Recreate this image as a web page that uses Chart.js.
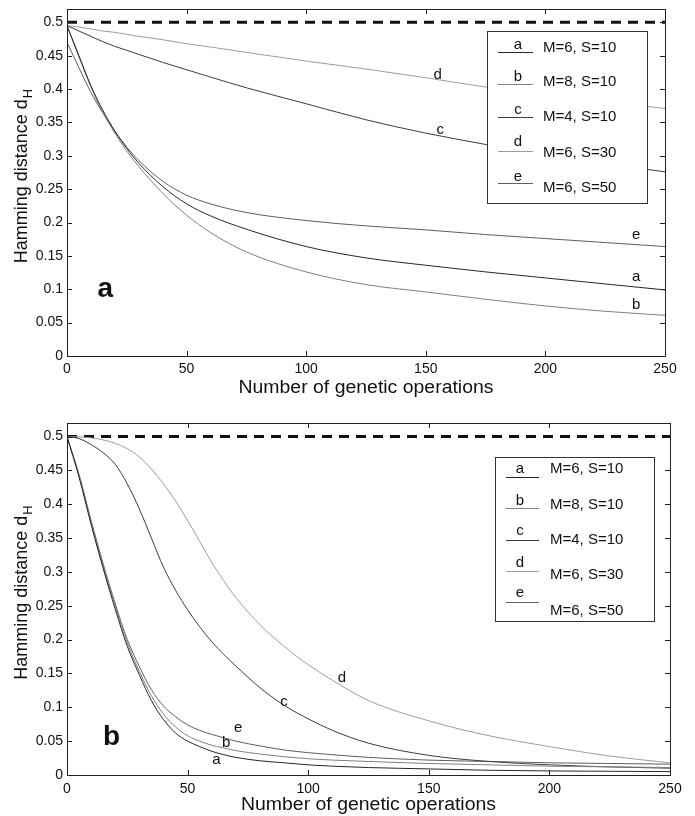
<!DOCTYPE html>
<html>
<head>
  <meta charset="utf-8">
  <title>Hamming distance vs genetic operations</title>
  <script src="https://cdn.jsdelivr.net/npm/chart.js"></script>
  <style>
    body { margin: 0; background: #fff; }
    .panel { position: relative; width: 695px; }
    #panelA { height: 400px; }
    #panelB { height: 416px; }
  </style>
</head>
<body>
  <div class="panel" id="panelA"><canvas id="chartA" width="695" height="400"></canvas></div>
  <div class="panel" id="panelB"><canvas id="chartB" width="695" height="416"></canvas></div>

  <script>
    // ---- data ----
    const seriesKeys = ['a', 'b', 'c', 'd', 'e'];
    const seriesNames = ['M=6, S=10', 'M=8, S=10', 'M=4, S=10', 'M=6, S=30', 'M=6, S=50'];
    const xTicks = [0, 50, 100, 150, 200, 250];
    const yTicks = [0, 0.05, 0.1, 0.15, 0.2, 0.25, 0.3, 0.35, 0.4, 0.45, 0.5];
    const randomLevel = 0.5;

    // panel a
    const opsA = [0, 5, 10, 15, 20, 25, 30, 40, 50, 60, 75, 100, 125, 150, 175, 200, 225, 250];
    const aA = [0.495, 0.45, 0.405, 0.368, 0.337, 0.311, 0.289, 0.254, 0.228, 0.21, 0.19, 0.164, 0.147, 0.136, 0.126, 0.117, 0.108, 0.099];
    const bA = [0.495, 0.448, 0.403, 0.365, 0.334, 0.307, 0.284, 0.244, 0.211, 0.185, 0.156, 0.126, 0.107, 0.096, 0.085, 0.075, 0.067, 0.061];
    const cA = [0.495, 0.487, 0.479, 0.471, 0.464, 0.458, 0.452, 0.44, 0.429, 0.418, 0.402, 0.378, 0.354, 0.334, 0.317, 0.301, 0.288, 0.276];
    const dA = [0.495, 0.493, 0.49, 0.487, 0.485, 0.482, 0.479, 0.474, 0.468, 0.463, 0.455, 0.442, 0.43, 0.417, 0.403, 0.392, 0.381, 0.371];
    const eA = [0.47, 0.432, 0.395, 0.364, 0.337, 0.313, 0.293, 0.262, 0.241, 0.228, 0.215, 0.203, 0.195, 0.189, 0.182, 0.176, 0.17, 0.164];
    // curve tags placed on panel a (x, y in data units)
    const tagXA = [238, 238, 156, 155, 238];
    const tagYA = [0.119, 0.077, 0.339, 0.421, 0.181];

    // panel b
    const opsB = [0, 5, 10, 15, 20, 25, 30, 35, 40, 45, 50, 55, 60, 65, 70, 80, 90, 100, 110, 125, 150, 175, 200, 225, 250];
    const aB = [0.5, 0.44, 0.37, 0.305, 0.245, 0.19, 0.148, 0.11, 0.082, 0.062, 0.05, 0.042, 0.035, 0.03, 0.026, 0.021, 0.018, 0.015, 0.013, 0.011, 0.009, 0.007, 0.006, 0.0055, 0.005];
    const bB = [0.5, 0.442, 0.373, 0.308, 0.249, 0.195, 0.153, 0.117, 0.09, 0.071, 0.058, 0.05, 0.044, 0.04, 0.036, 0.031, 0.027, 0.024, 0.022, 0.02, 0.017, 0.015, 0.013, 0.012, 0.011];
    const cB = [0.5, 0.497, 0.488, 0.476, 0.459, 0.43, 0.393, 0.35, 0.307, 0.273, 0.244, 0.219, 0.197, 0.178, 0.161, 0.129, 0.103, 0.083, 0.066, 0.047, 0.029, 0.02, 0.015, 0.012, 0.01];
    const dB = [0.5, 0.4995, 0.498, 0.495, 0.49, 0.482, 0.47, 0.452, 0.43, 0.405, 0.376, 0.345, 0.314, 0.287, 0.262, 0.222, 0.19, 0.163, 0.14, 0.11, 0.08, 0.058, 0.042, 0.028, 0.018];
    const eB = [0.5, 0.444, 0.376, 0.312, 0.253, 0.2, 0.16, 0.126, 0.102, 0.086, 0.074, 0.066, 0.06, 0.055, 0.05, 0.043, 0.037, 0.033, 0.03, 0.026, 0.022, 0.02, 0.018, 0.017, 0.016];
    const tagXB = [62, 66, 90, 114, 71];
    const tagYB = [0.023, 0.047, 0.108, 0.144, 0.069];

    const lineColors = ['#262626', '#808080', '#3c3c3c', '#9c9c9c', '#5e5e5e'];
    const fontFam = '"Liberation Sans", Arial, Helvetica, sans-serif';

    // legend layout per panel (pixels in canvas): box, and rows [letterY, lineY, textY]
    const legendA = {
      box: [487, 31, 160, 172], letterX: 518, lineX: [498, 533], textX: 543,
      rows: [[45, 52, 48], [77, 84, 82], [110, 117, 117], [142, 151, 153], [177, 183, 188]]
    };
    const legendB = {
      box: [495, 57, 159, 164], letterX: 520, lineX: [506, 539], textX: 550,
      rows: [[69, 77, 69], [101, 108, 105], [131, 140, 140], [163, 171, 175], [193, 202, 211]]
    };

    function toPoints(xs, ys) {
      return xs.map((x, i) => ({ x: x, y: ys[i] }));
    }

    // frame, inward ticks on all four sides, titles, legend and curve tags
    const matlabLook = {
      id: 'matlabLook',
      afterDraw(chart, args, opts) {
        const ctx = chart.ctx;
        const area = chart.chartArea;
        const xs = chart.scales.x, ys = chart.scales.y;
        ctx.save();
        ctx.strokeStyle = '#222';
        ctx.lineWidth = 1;
        ctx.strokeRect(area.left + 0.5, area.top + 0.5, area.right - area.left, area.bottom - area.top);
        ctx.beginPath();
        xTicks.forEach(v => {
          const px = Math.round(xs.getPixelForValue(v)) + 0.5;
          ctx.moveTo(px, area.bottom); ctx.lineTo(px, area.bottom - 5);
          ctx.moveTo(px, area.top); ctx.lineTo(px, area.top + 5);
        });
        yTicks.forEach(v => {
          const py = Math.round(ys.getPixelForValue(v)) + 0.5;
          ctx.moveTo(area.left, py); ctx.lineTo(area.left + 5, py);
          ctx.moveTo(area.right, py); ctx.lineTo(area.right - 5, py);
        });
        ctx.stroke();

        // axis titles
        ctx.fillStyle = '#111';
        ctx.save();
        ctx.translate((area.left + area.right) / 2, area.bottom + opts.xTitleOffset);
        ctx.scale(1.08, 1);
        ctx.font = '18px ' + fontFam;
        ctx.textAlign = 'center';
        ctx.textBaseline = 'middle';
        ctx.fillText('Number of genetic operations', 0, 0);
        ctx.restore();

        ctx.save();
        ctx.textBaseline = 'middle';
        ctx.translate(22, (area.top + area.bottom) / 2 - 6);
        ctx.rotate(-Math.PI / 2);
        const main = 'Hamming distance d';
        ctx.font = '18px ' + fontFam;
        const w = ctx.measureText(main).width;
        ctx.font = '13px ' + fontFam;
        const ws = ctx.measureText('H').width;
        ctx.textAlign = 'left';
        ctx.font = '18px ' + fontFam;
        ctx.fillText(main, -(w + ws) / 2, 0);
        ctx.font = '13px ' + fontFam;
        ctx.fillText('H', -(w + ws) / 2 + w + 1, 6);
        ctx.restore();

        ctx.textBaseline = 'middle';
        // panel letter
        ctx.font = 'bold 28px ' + fontFam;
        ctx.textAlign = 'center';
        ctx.fillText(opts.panelLetter, xs.getPixelForValue(opts.panelPos[0]), ys.getPixelForValue(opts.panelPos[1]));

        // curve tags
        ctx.font = '15px ' + fontFam;
        seriesKeys.forEach((k, i) => {
          ctx.fillText(k, xs.getPixelForValue(opts.tagX[i]), ys.getPixelForValue(opts.tagY[i]));
        });

        // legend box
        const lg = opts.legend;
        ctx.fillStyle = '#fff';
        ctx.fillRect(lg.box[0], lg.box[1], lg.box[2], lg.box[3]);
        ctx.strokeStyle = '#333';
        ctx.strokeRect(lg.box[0] + 0.5, lg.box[1] + 0.5, lg.box[2], lg.box[3]);
        seriesKeys.forEach((k, i) => {
          const r = lg.rows[i];
          ctx.fillStyle = '#111';
          ctx.font = '15px ' + fontFam;
          ctx.textAlign = 'center';
          ctx.fillText(k, lg.letterX, r[0]);
          ctx.strokeStyle = lineColors[i];
          ctx.beginPath();
          ctx.moveTo(lg.lineX[0], r[1] + 0.5);
          ctx.lineTo(lg.lineX[1], r[1] + 0.5);
          ctx.stroke();
          ctx.textAlign = 'left';
          ctx.fillText(seriesNames[i], lg.textX, r[2]);
        });
        ctx.restore();
      }
    };

    function makeChart(canvasId, ops, series, pad, xAxisH, plugOpts) {
      const datasets = series.map((vals, i) => ({
        label: seriesKeys[i],
        data: toPoints(ops, vals),
        borderColor: lineColors[i],
        borderWidth: 1,
        pointRadius: 0,
        cubicInterpolationMode: 'monotone'
      }));
      datasets.push({
        label: 'random',
        data: [{ x: 0, y: randomLevel }, { x: 250, y: randomLevel }],
        borderColor: '#111',
        borderWidth: 3,
        borderDash: [10, 7],
        pointRadius: 0
      });
      return new Chart(document.getElementById(canvasId), {
        type: 'line',
        data: { datasets: datasets },
        options: {
          responsive: false,
          animation: false,
          layout: { padding: pad },
          plugins: { legend: { display: false }, tooltip: { enabled: false }, matlabLook: plugOpts },
          scales: {
            x: {
              type: 'linear', min: 0, max: 250,
              grid: { display: false, drawTicks: false },
              border: { display: false },
              afterBuildTicks: s => { s.ticks = xTicks.map(v => ({ value: v })); },
              afterFit: s => { s.height = xAxisH; s.paddingLeft = 0; s.paddingRight = 0; },
              ticks: { color: '#111', font: { family: fontFam, size: 14 }, padding: plugOpts.xTickPad, maxRotation: 0 }
            },
            y: {
              type: 'linear', min: 0, max: 0.52,
              grid: { display: false, drawTicks: false },
              border: { display: false },
              afterBuildTicks: s => { s.ticks = yTicks.map(v => ({ value: v })); },
              afterFit: s => { s.width = 67; s.paddingTop = 0; s.paddingBottom = 0; },
              ticks: {
                color: '#111', font: { family: fontFam, size: 14 }, padding: 4,
                callback: v => String(Number(v.toFixed(2)))
              }
            }
          }
        },
        plugins: [matlabLook]
      });
    }

    makeChart('chartA', opsA, [aA, bA, cA, dA, eA], { top: 9, right: 30, left: 0, bottom: 0 }, 44, {
      xTitleOffset: 32, xTickPad: 5, panelLetter: 'a', panelPos: [16, 0.1],
      tagX: tagXA, tagY: tagYA, legend: legendA
    });
    makeChart('chartB', opsB, [aB, bB, cB, dB, eB], { top: 23, right: 25, left: 0, bottom: 0 }, 41, {
      xTitleOffset: 30, xTickPad: 6, panelLetter: 'b', panelPos: [18.5, 0.055],
      tagX: tagXB, tagY: tagYB, legend: legendB
    });
  </script>
</body>
</html>
